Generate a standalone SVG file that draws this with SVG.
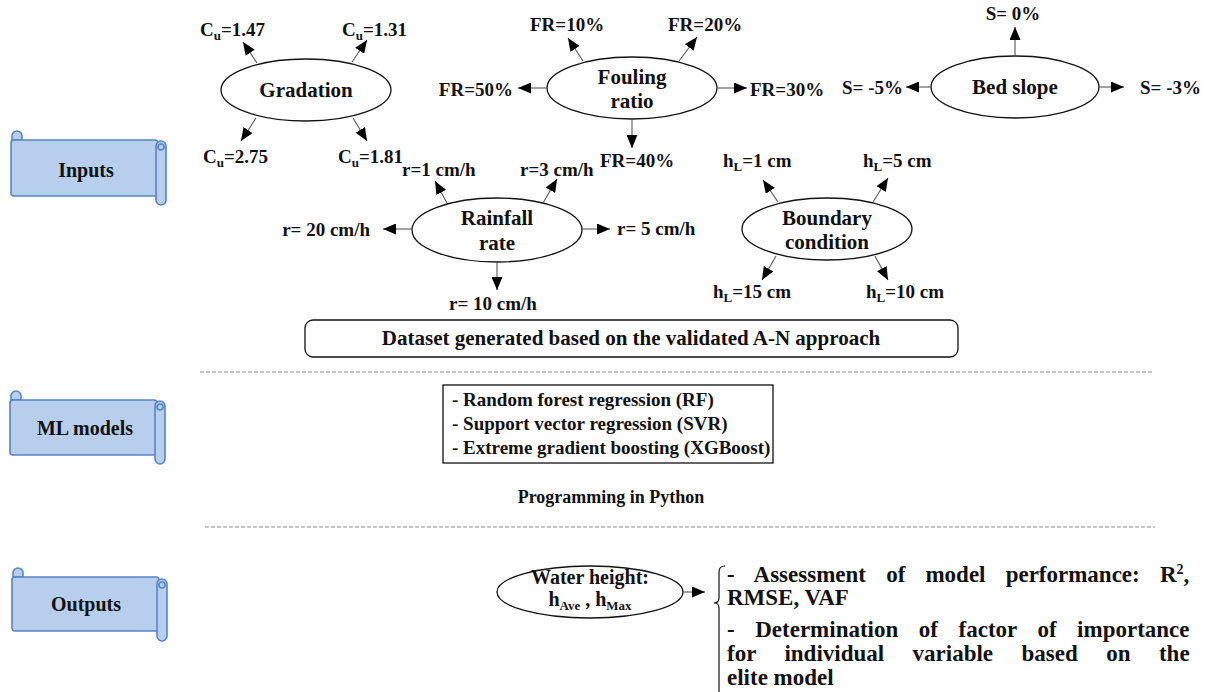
<svg xmlns="http://www.w3.org/2000/svg" width="1207" height="692" viewBox="0 0 1207 692">
<defs>
<marker id="ah" markerWidth="13" markerHeight="11" refX="13" refY="5.5" orient="auto" markerUnits="userSpaceOnUse">
<path d="M0,0 L13,5.5 L0,11 z" fill="#000"/>
</marker>
</defs>
<style>
text{font-family:"Liberation Serif","Times New Roman",serif;font-weight:bold;fill:#111}
.lab{font-size:19px}
.nd{font-size:21px;text-anchor:middle}
.ban{font-size:20px;text-anchor:middle}
.out{font-size:23px}
.ell{fill:#fff;stroke:#111;stroke-width:1.3}
.con line{stroke:#555;stroke-width:1.1;marker-end:url(#ah)}
.scroll{fill:#b7cfec;stroke:#5584c4;stroke-width:1.6}
.dash{stroke:#8a8a8a;stroke-width:1;stroke-dasharray:4 2}
.sub{font-size:13px}
</style>
<rect width="1207" height="692" fill="#fff"/>

<!-- scroll banners -->
<g id="inputs">
<path class="scroll" d="M12,136 a5,5 0 0 1 10,0 v4 h-10 z"/>
<rect class="scroll" x="11" y="140" width="147" height="56" rx="3"/>
<rect class="scroll" x="156" y="141" width="10" height="64" rx="5"/>
<circle class="scroll" cx="161" cy="147" r="3"/>
<text class="ban" x="86" y="177">Inputs</text>
</g>
<g id="ml-models">
<path class="scroll" d="M11,396 a5,5 0 0 1 10,0 v4 h-10 z"/>
<rect class="scroll" x="10" y="400" width="147" height="55" rx="3"/>
<rect class="scroll" x="155" y="401" width="10" height="63" rx="5"/>
<circle class="scroll" cx="160" cy="407" r="3"/>
<text class="ban" x="85" y="435">ML models</text>
</g>
<g id="outputs">
<path class="scroll" d="M13,573 a5,5 0 0 1 10,0 v4 h-10 z"/>
<rect class="scroll" x="12" y="577" width="147" height="54" rx="3"/>
<rect class="scroll" x="157" y="579" width="10" height="62" rx="5"/>
<circle class="scroll" cx="162" cy="585" r="3"/>
<text class="ban" x="86" y="611">Outputs</text>
</g>

<!-- nodes -->
<g id="gradation">
<ellipse class="ell" cx="306" cy="90" rx="85" ry="31"/>
<text class="nd" x="306" y="97">Gradation</text>
</g>
<g id="fouling">
<ellipse class="ell" cx="632" cy="88" rx="85" ry="31"/>
<text class="nd" x="632" y="84">Fouling</text>
<text class="nd" x="632" y="108">ratio</text>
</g>
<g id="bedslope">
<ellipse class="ell" cx="1015" cy="87" rx="84" ry="31"/>
<text class="nd" x="1015" y="94">Bed slope</text>
</g>
<g id="rainfall">
<ellipse class="ell" cx="497" cy="230" rx="85" ry="32"/>
<text class="nd" x="497" y="225">Rainfall</text>
<text class="nd" x="497" y="250">rate</text>
</g>
<g id="boundary">
<ellipse class="ell" cx="827" cy="229" rx="85" ry="31"/>
<text class="nd" x="827" y="225">Boundary</text>
<text class="nd" x="827" y="249">condition</text>
</g>
<g id="dataset">
<rect x="305" y="320" width="653" height="37" rx="8" fill="#fff" stroke="#111" stroke-width="1.3"/>
<text class="nd" x="631" y="345">Dataset generated based on the validated A-N approach</text>
</g>
<g id="models">
<rect x="443" y="385" width="330" height="78" fill="#fff" stroke="#111" stroke-width="1.3"/>
<text class="lab" x="452" y="406">- Random forest regression (RF)</text>
<text class="lab" x="452" y="430">- Support vector regression (SVR)</text>
<text class="lab" x="452" y="454">- Extreme gradient boosting (XGBoost)</text>
</g>
<g id="python">
<text class="nd" x="611" y="503" style="font-size:18px">Programming in Python</text>
</g>
<g id="water">
<ellipse class="ell" cx="590" cy="592" rx="93" ry="26"/>
<text class="nd" x="590" y="584" style="font-size:20px">Water height:</text>
<text class="nd" x="590" y="606" style="font-size:20px">h<tspan class="sub" dy="4">Ave</tspan><tspan dy="-4"> , h</tspan><tspan class="sub" dy="4">Max</tspan></text>
</g>
<g id="results">
<path d="M725,566 Q719,566 719,572 L719,598 Q719,603 714,603 Q719,603 719,608 L719,692" fill="none" stroke="#111" stroke-width="1.2"/>
<text class="out" x="727" y="582" word-spacing="14.4">- Assessment of model performance: R<tspan font-size="14" dy="-8">2</tspan><tspan dy="8">,</tspan></text>
<text class="out" x="727" y="605">RMSE, VAF</text>
<text class="out" x="727" y="637" word-spacing="14.8">- Determination of factor of importance</text>
<text class="out" x="727" y="661" word-spacing="22.7">for individual variable based on the</text>
<text class="out" x="727" y="685">elite model</text>
</g>

<!-- dashed separators -->
<line class="dash" x1="200" y1="372" x2="1152" y2="372"/>
<line class="dash" x1="205" y1="527" x2="1155" y2="527"/>

<!-- labels -->
<g id="labels" class="lab">
<text x="200" y="36">C<tspan class="sub" dy="4">u</tspan><tspan dy="-4">=1.47</tspan></text>
<text x="342" y="36">C<tspan class="sub" dy="4">u</tspan><tspan dy="-4">=1.31</tspan></text>
<text x="203" y="163">C<tspan class="sub" dy="4">u</tspan><tspan dy="-4">=2.75</tspan></text>
<text x="338" y="163">C<tspan class="sub" dy="4">u</tspan><tspan dy="-4">=1.81</tspan></text>
<text x="530" y="31">FR=10%</text>
<text x="668" y="31">FR=20%</text>
<text x="513" y="96" text-anchor="end">FR=50%</text>
<text x="750" y="96">FR=30%</text>
<text x="600" y="167">FR=40%</text>
<text x="1013" y="20" text-anchor="middle">S= 0%</text>
<text x="903" y="94" text-anchor="end">S= -5%</text>
<text x="1140" y="94">S= -3%</text>
<text x="402" y="176">r=1 cm/h</text>
<text x="520" y="176">r=3 cm/h</text>
<text x="370" y="236" text-anchor="end">r= 20 cm/h</text>
<text x="617" y="235">r= 5 cm/h</text>
<text x="493" y="310" text-anchor="middle">r= 10 cm/h</text>
<text x="723" y="167">h<tspan class="sub" dy="4">L</tspan><tspan dy="-4">=1 cm</tspan></text>
<text x="863" y="167">h<tspan class="sub" dy="4">L</tspan><tspan dy="-4">=5 cm</tspan></text>
<text x="713" y="298">h<tspan class="sub" dy="4">L</tspan><tspan dy="-4">=15 cm</tspan></text>
<text x="866" y="298">h<tspan class="sub" dy="4">L</tspan><tspan dy="-4">=10 cm</tspan></text>
</g>

<!-- connectors -->
<g id="connectors" class="con">
<line x1="257" y1="63" x2="243" y2="42"/>
<line x1="352" y1="62" x2="367" y2="40"/>
<line x1="256" y1="118" x2="241" y2="141"/>
<line x1="353" y1="118" x2="367" y2="141"/>
<line x1="583" y1="61" x2="568" y2="38"/>
<line x1="679" y1="61" x2="697" y2="37"/>
<line x1="547" y1="88" x2="518" y2="88"/>
<line x1="717" y1="88" x2="747" y2="88"/>
<line x1="632" y1="119" x2="632" y2="148"/>
<line x1="1015" y1="56" x2="1015" y2="27"/>
<line x1="931" y1="87" x2="906" y2="87"/>
<line x1="1099" y1="87" x2="1124" y2="87"/>
<line x1="447" y1="203" x2="435" y2="181"/>
<line x1="543" y1="203" x2="557" y2="179"/>
<line x1="412" y1="229" x2="383" y2="229"/>
<line x1="582" y1="229" x2="610" y2="229"/>
<line x1="497" y1="262" x2="497" y2="290"/>
<line x1="778" y1="202" x2="763" y2="180"/>
<line x1="873" y1="202" x2="888" y2="178"/>
<line x1="776" y1="256" x2="762" y2="280"/>
<line x1="875" y1="256" x2="888" y2="280"/>
<line x1="683" y1="592" x2="705" y2="592"/>
</g>
</svg>
